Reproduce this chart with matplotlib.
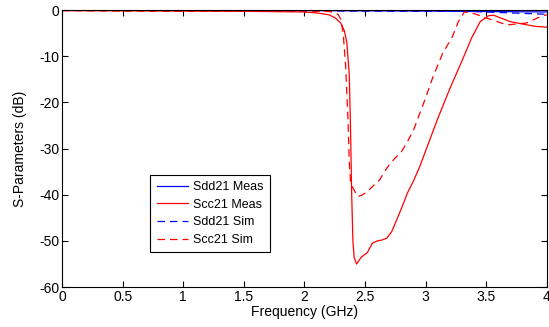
import matplotlib
matplotlib.use("Agg")
import matplotlib.pyplot as plt

plt.rcParams['font.family'] = ['Liberation Sans', 'DejaVu Sans']
plt.rcParams['font.size'] = 10
plt.rcParams['axes.unicode_minus'] = False

# Scc21 measured (GHz, dB)
scc_meas_f = [0.0, 0.5, 1.0, 1.5, 2.0, 2.1, 2.2, 2.25, 2.3, 2.33, 2.35, 2.37, 2.38, 2.39, 2.4, 2.41, 2.43,
              2.47, 2.52, 2.56, 2.6, 2.64, 2.68, 2.72, 2.76, 2.8, 2.85, 2.9, 2.95, 3.0, 3.1, 3.2, 3.3,
              3.38, 3.45, 3.52, 3.56, 3.6, 3.7, 3.8, 3.9, 4.0]
scc_meas_db = [-0.1, -0.15, -0.2, -0.25, -0.4, -0.6, -1.0, -1.6, -2.8, -4.5, -7.0, -14.0, -25.0, -40.0, -50.0, -53.5, -55.0,
               -53.5, -52.5, -50.5, -50.0, -49.8, -49.4, -48.0, -45.5, -43.0, -39.6, -37.0, -34.0, -30.5, -23.5, -17.0, -11.0,
               -6.0, -2.5, -1.2, -1.1, -1.5, -2.5, -3.0, -3.5, -3.7]

# Scc21 simulated
scc_sim_f = [0.0, 0.5, 1.0, 1.5, 2.0, 2.1, 2.2, 2.25, 2.28, 2.3, 2.32, 2.34, 2.36, 2.37, 2.38, 2.4, 2.44,
             2.48, 2.52, 2.57, 2.62, 2.66, 2.7, 2.75, 2.8, 2.85, 2.9, 2.95, 3.0, 3.06, 3.14, 3.22, 3.27,
             3.32, 3.38, 3.45, 3.5, 3.56, 3.67, 3.75, 3.83, 3.94, 4.0]
scc_sim_db = [-0.1, -0.2, -0.25, -0.2, -0.2, -0.25, -0.3, -0.5, -1.0, -2.0, -5.0, -12.0, -24.0, -33.0, -37.0, -38.5, -40.4,
              -40.0, -39.3, -38.0, -36.8, -35.0, -33.5, -32.0, -30.7, -28.5, -26.0, -22.5, -19.0, -14.5, -9.4, -5.8, -2.5,
              -0.4, -0.6, -1.2, -1.7, -2.2, -3.2, -3.0, -2.8, -1.5, -1.0]

# Sdd21 measured
sdd_meas_f = [0.0, 0.5, 1.0, 1.5, 2.0, 2.5, 3.0, 3.5, 4.0]
sdd_meas_db = [0.0, -0.05, -0.05, -0.1, -0.1, -0.15, -0.2, -0.3, -0.4]

# Sdd21 simulated
sdd_sim_f = [0.0, 0.5, 1.0, 1.5, 2.0, 2.5, 3.0, 3.3, 3.6, 3.8, 4.0]
sdd_sim_db = [0.0, -0.05, -0.1, -0.1, -0.15, -0.2, -0.25, -0.2, -0.5, -0.7, -0.9]

fig = plt.figure(figsize=(5.49, 3.27), dpi=100)
ax = fig.add_axes([0.113, 0.122, 0.883, 0.847])

ax.plot(sdd_meas_f, sdd_meas_db, color='blue', lw=0.9, label='Sdd21 Meas')
ax.plot(scc_meas_f, scc_meas_db, color='red', lw=0.9, label='Scc21 Meas')
ax.plot(sdd_sim_f, sdd_sim_db, color='blue', lw=0.9, ls=(0, (6, 4)), label='Sdd21 Sim')
ax.plot(scc_sim_f, scc_sim_db, color='red', lw=0.9, ls=(0, (6, 4)), label='Scc21 Sim')

ax.set_xlim(0, 4)
ax.set_ylim(-60, 0)
ax.set_xticks([0, 0.5, 1, 1.5, 2, 2.5, 3, 3.5, 4])
ax.set_xticklabels(['0', '0.5', '1', '1.5', '2', '2.5', '3', '3.5', '4'])
ax.set_yticks(range(-60, 1, 10))
ax.tick_params(direction='in', top=True, right=True, length=4, width=0.8, pad=2)
for s in ax.spines.values():
    s.set_linewidth(0.8)

ax.set_xlabel('Frequency (GHz)', labelpad=1)
ax.set_ylabel('S-Parameters (dB)', labelpad=9)

leg = ax.legend(loc='lower left', bbox_to_anchor=(0.182, 0.126), borderaxespad=0,
                fancybox=False, framealpha=1, edgecolor='black', borderpad=0.5,
                handlelength=2.5, handletextpad=0.4, labelspacing=0.45, fontsize=9)
leg.get_frame().set_linewidth(0.8)

fig.savefig('out.png', dpi=100)
